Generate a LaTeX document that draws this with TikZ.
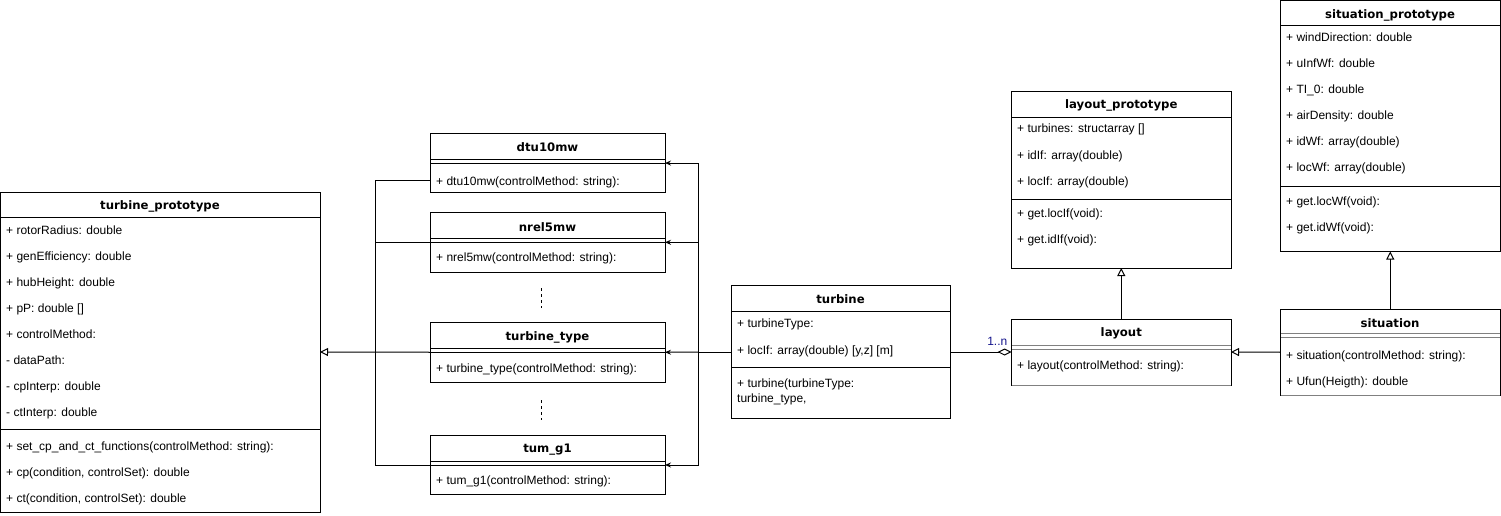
\documentclass[tikz,border=0pt]{standalone}
\usepackage{fontspec}
\setmainfont{Liberation Sans}
\newfontfamily\headfont{DejaVu Sans}
\usetikzlibrary{arrows.meta}
\definecolor{mult}{RGB}{20,20,140}
\definecolor{sepgray}{RGB}{128,128,128}
\tikzset{
  cls/.style={draw, line width=1pt, inner sep=0pt, outer sep=0pt, anchor=north west},
  txt/.style={anchor=west, inner sep=0pt, font=\fontsize{12}{14}\selectfont, text height=8.6pt, text depth=0pt},
  hdr/.style={anchor=center, inner sep=0pt, font=\headfont\fontsize{11.7}{14}\selectfont\bfseries, text height=8.6pt, text depth=0pt},
  rule/.style={line width=1pt},
  grayrule/.style={line width=1pt, draw=sepgray},
  link/.style={line width=1pt},
  gen/.style={line width=1pt, -{Triangle[open, length=8pt, width=8pt]}},
  sub/.style={line width=1pt, -{Stealth[length=6pt, width=5pt, inset=2pt]}},
  agg/.style={line width=1pt, -{Diamond[open, length=14pt, width=7pt]}},
  dots/.style={line width=1pt, dash pattern=on 3pt off 3pt}
}
\begin{document}
\begin{tikzpicture}[x=1pt, y=-1pt]
\useasboundingbox (0,0) rectangle (1501,516);

% ---------- turbine_prototype ----------
\node[cls, minimum width=319.5pt, minimum height=320pt] (tp) at (0.5,192) {};
\node[hdr] (tp-h) at (160,205) {turbine\_prototype};
\draw[rule] (0.5,217.5) -- (320,217.5);
\draw[rule] (0.5,429.5) -- (320,429.5);
\node[txt] (tp-a1) at (6,230) {+ rotorRadius: double};
\node[txt] (tp-a2) at (6,256) {+ genEfficiency: double};
\node[txt] (tp-a3) at (6,282) {+ hubHeight: double};
\node[txt] (tp-a4) at (6,308) {+ pP: double []};
\node[txt] (tp-a5) at (6,334) {+ controlMethod:};
\node[txt] (tp-a6) at (6,360) {- dataPath:};
\node[txt] (tp-a7) at (6,386) {- cpInterp: double};
\node[txt] (tp-a8) at (6,412) {- ctInterp: double};
\node[txt] (tp-m1) at (6,446) {+ set\_cp\_and\_ct\_functions(controlMethod: string):};
\node[txt] (tp-m2) at (6,472) {+ cp(condition, controlSet): double};
\node[txt] (tp-m3) at (6,498) {+ ct(condition, controlSet): double};

% ---------- concrete turbine classes ----------
\node[cls, minimum width=235pt, minimum height=59.5pt] (dtu) at (430,133.3) {};
\node[hdr] (dtu-h) at (547.5,146.7) {dtu10mw};
\draw[rule] (430,159.3) -- (665,159.3);
\draw[rule] (430,163) -- (665,163);
\node[txt] (dtu-m1) at (436,180.7) {+ dtu10mw(controlMethod: string):};

\node[cls, minimum width=235pt, minimum height=60pt] (nrel) at (430,212.3) {};
\node[hdr] (nrel-h) at (547.5,226.7) {nrel5mw};
\draw[rule] (430,238.5) -- (665,238.5);
\draw[rule] (430,242.3) -- (665,242.3);
\node[txt] (nrel-m1) at (436,256.7) {+ nrel5mw(controlMethod: string):};

\node[cls, minimum width=235pt, minimum height=59.5pt] (ttype) at (430,322.5) {};
\node[hdr] (ttype-h) at (547.5,336) {turbine\_type};
\draw[rule] (430,348.3) -- (665,348.3);
\draw[rule] (430,352) -- (665,352);
\node[txt] (ttype-m1) at (436,368.3) {+ turbine\_type(controlMethod: string):};

\node[cls, minimum width=235pt, minimum height=59pt] (tum) at (430,435) {};
\node[hdr] (tum-h) at (547.5,448.3) {tum\_g1};
\draw[rule] (430,461.3) -- (665,461.3);
\draw[rule] (430,465) -- (665,465);
\node[txt] (tum-m1) at (436,480) {+ tum\_g1(controlMethod: string):};

% vertical ellipsis between the turbine classes
\draw[dots] ([xshift=-6pt, yshift=-16pt]nrel.south) -- ([xshift=-6pt, yshift=-36pt]nrel.south);
\draw[dots] ([xshift=-6pt, yshift=-18pt]ttype.south) -- ([xshift=-6pt, yshift=-38pt]ttype.south);

% ---------- turbine ----------
\node[cls, minimum width=219pt, minimum height=133pt] (turb) at (731,285.5) {};
\node[hdr] (turb-h) at (840.5,299) {turbine};
\draw[rule] (731,311.5) -- (950,311.5);
\draw[rule] (731,367.5) -- (950,367.5);
\node[txt] (turb-a1) at (737,323.3) {+ turbineType:};
\node[txt] (turb-a2) at (737,350) {+ locIf: array(double) [y,z] [m]};
\node[txt] (turb-m1) at (737,383.3) {+ turbine(turbineType:};
\node[txt] (turb-m2) at (737,398.3) {turbine\_type,};

% ---------- layout_prototype ----------
\node[cls, minimum width=219.5pt, minimum height=176.5pt] (lp) at (1011.5,91.5) {};
\node[hdr] (lp-h) at (1121.3,104.3) {layout\_prototype};
\draw[rule] (1011.5,117.5) -- (1231,117.5);
\draw[rule] (1011.5,199.5) -- (1231,199.5);
\node[txt] (lp-a1) at (1017,128.5) {+ turbines: structarray []};
\node[txt] (lp-a2) at (1017,155) {+ idIf: array(double)};
\node[txt] (lp-a3) at (1017,181.5) {+ locIf: array(double)};
\node[txt] (lp-m1) at (1017,213) {+ get.locIf(void):};
\node[txt] (lp-m2) at (1017,239.5) {+ get.idIf(void):};

% ---------- layout ----------
\node[cls, minimum width=219.5pt, minimum height=66pt] (lay) at (1011.5,319) {};
\node[hdr] (lay-h) at (1121.3,332) {layout};
\draw[grayrule] (1012,345) -- (1230.5,345);
\draw[grayrule] (1012,349) -- (1230.5,349);
\draw[grayrule] (lay.south west) -- (lay.south east);
\node[txt] (lay-m1) at (1017,365) {+ layout(controlMethod: string):};

% ---------- situation_prototype ----------
\node[cls, minimum width=219.5pt, minimum height=251pt] (sp) at (1280.5,0.5) {};
\node[hdr] (sp-h) at (1390,14) {situation\_prototype};
\draw[rule] (1280.5,26) -- (1500,26);
\draw[rule] (1280.5,186) -- (1500,186);
\node[txt] (sp-a1) at (1286,37.5) {+ windDirection: double};
\node[txt] (sp-a2) at (1286,63.5) {+ uInfWf: double};
\node[txt] (sp-a3) at (1286,89.5) {+ TI\_0: double};
\node[txt] (sp-a4) at (1286,115.5) {+ airDensity: double};
\node[txt] (sp-a5) at (1286,141.5) {+ idWf: array(double)};
\node[txt] (sp-a6) at (1286,167.5) {+ locWf: array(double)};
\node[txt] (sp-m1) at (1286,201.5) {+ get.locWf(void):};
\node[txt] (sp-m2) at (1286,227.5) {+ get.idWf(void):};

% ---------- situation ----------
\node[cls, minimum width=219.5pt, minimum height=85.5pt] (sit) at (1280.5,309.5) {};
\node[hdr] (sit-h) at (1390,322.7) {situation};
\draw[grayrule] (1281,333) -- (1499.5,333);
\draw[grayrule] (1281,337.5) -- (1499.5,337.5);
\draw[grayrule] (sit.south west) -- (sit.south east);
\node[txt] (sit-m1) at (1286,355) {+ situation(controlMethod: string):};
\node[txt] (sit-m2) at (1286,381) {+ Ufun(Heigth): double};

% ---------- inheritance of the turbine classes ----------
\coordinate (jl) at (375.7,352);
\draw[link] ([yshift=-17.7pt]dtu.west) -| (jl);
\draw[link] (nrel.west) -| (jl);
\draw[link] ([yshift=-0.5pt]tum.west) -| (jl);
\draw[gen] (ttype.west) -- (tp.east);

% ---------- turbine refers to the turbine types ----------
\coordinate (jr) at (698.3,352);
\draw[link] (turb.west) -- (jr);
\draw[sub] (jr) |- (dtu.east);
\draw[sub] (jr) |- (nrel.east);
\draw[sub] (jr) -- (ttype.east);
\draw[sub] (jr) |- ([yshift=-0.5pt]tum.east);

% ---------- layout and situation ----------
\draw[agg] (turb.east) -- (lay.west);
\node[anchor=east, inner sep=0pt, font=\fontsize{12}{14}\selectfont, text height=8.6pt, text depth=0pt, text=mult] (mul) at (1007.5,340.7) {1..n};
\draw[gen] (lay.north) -- (lp.south);
\draw[gen] (sit.west) -- (lay.east);
\draw[gen] (sit.north) -- (sp.south);
\end{tikzpicture}
\end{document}
